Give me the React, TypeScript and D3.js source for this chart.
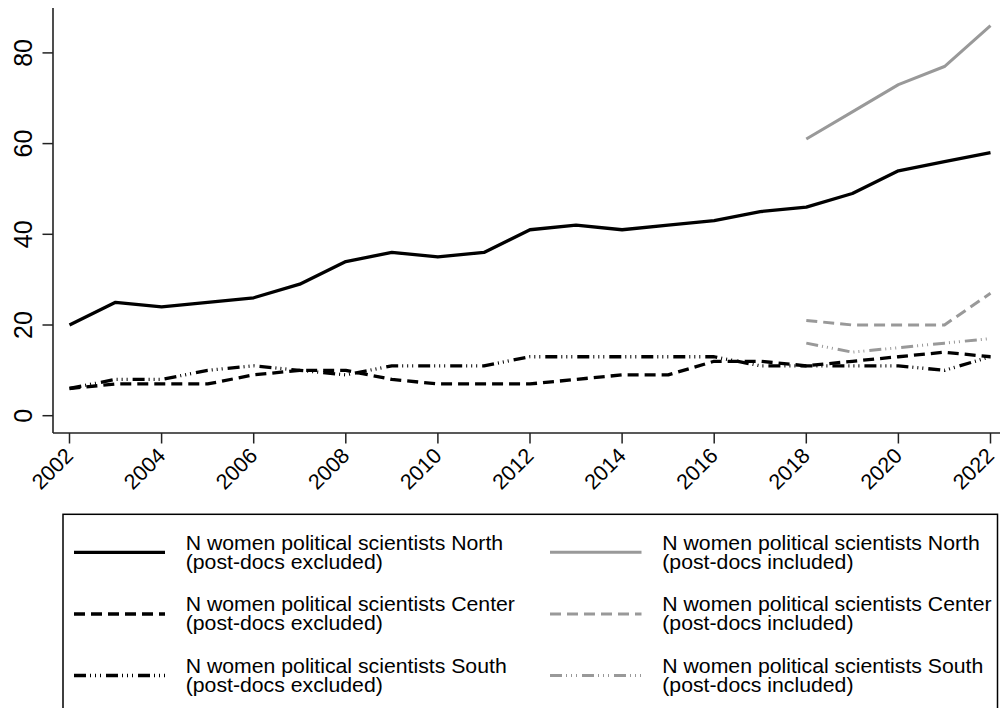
import React from "react";
import * as d3 from "d3";

const years = [2002, 2003, 2004, 2005, 2006, 2007, 2008, 2009, 2010, 2011, 2012, 2013, 2014, 2015, 2016, 2017, 2018, 2019, 2020, 2021, 2022];
const northExcl = [20, 25, 24, 25, 26, 29, 34, 36, 35, 36, 41, 42, 41, 42, 43, 45, 46, 49, 54, 56, 58];
const centerExcl = [6, 7, 7, 7, 9, 10, 10, 8, 7, 7, 7, 8, 9, 9, 12, 12, 11, 12, 13, 14, 13];
const southExcl = [6, 8, 8, 10, 11, 10, 9, 11, 11, 11, 13, 13, 13, 13, 13, 11, 11, 11, 11, 10, 13];

const yearsIncl = [2018, 2019, 2020, 2021, 2022];
const northIncl = [61, 67, 73, 77, 86];
const centerIncl = [21, 20, 20, 20, 27];
const southIncl = [16, 14, 15, 16, 17];

const xTicks = [2002, 2004, 2006, 2008, 2010, 2012, 2014, 2016, 2018, 2020, 2022];
const yTicks = [0, 20, 40, 60, 80];

const legendLabels = [
  ["N women political scientists North", "(post-docs excluded)"],
  ["N women  political scientists Center", "(post-docs excluded)"],
  ["N women political scientists South", "(post-docs excluded)"],
  ["N women political scientists North", "(post-docs included)"],
  ["N women political scientists Center", "(post-docs included)"],
  ["N women political scientists South", "(post-docs included)"],
];

const BLACK = "#000000";
const GRAY = "#999999";
const DASH = "11,6";
const DASHDOT = "12,4,1,4,1,4,1,5";

export default function App() {
  const x = d3.scaleLinear().domain([2002, 2022]).range([69.5, 990.5]);
  const y = d3.scaleLinear().domain([0, 80]).range([415.7, 52.9]);
  const axisY = 433;
  const axisX = 53;

  const line = d3
    .line<[number, number]>()
    .x((d) => x(d[0]))
    .y((d) => y(d[1]));

  const series = [
    { xs: years, vs: northExcl, color: BLACK, dash: undefined, w: 3.3 },
    { xs: years, vs: centerExcl, color: BLACK, dash: DASH, w: 3.3 },
    { xs: years, vs: southExcl, color: BLACK, dash: DASHDOT, w: 3.3 },
    { xs: yearsIncl, vs: northIncl, color: GRAY, dash: undefined, w: 3 },
    { xs: yearsIncl, vs: centerIncl, color: GRAY, dash: DASH, w: 3 },
    { xs: yearsIncl, vs: southIncl, color: GRAY, dash: DASHDOT, w: 3 },
  ];

  const font = "'Liberation Sans', Arial, Helvetica, sans-serif";
  const rowBase = [549.5, 611.2, 672.8];
  const keyY = [552.3, 614, 675.5];
  const colKey = [
    [74, 165],
    [550, 641.5],
  ];
  const colText = [185.7, 662.3];

  return (
    <svg
      width={1000}
      height={708}
      style={{ position: "absolute", left: 0, top: 0, background: "#fff" }}
      fontFamily={font}
    >
      <rect x={0} y={0} width={1000} height={708} fill="#fff" />
      {/* axes */}
      <line x1={axisX} y1={8} x2={axisX} y2={axisY} stroke="#222" strokeWidth={1.6} />
      <line x1={axisX} y1={axisY} x2={1000} y2={axisY} stroke="#222" strokeWidth={1.6} />
      {yTicks.map((t) => (
        <g key={"y" + t}>
          <line x1={axisX - 10.5} x2={axisX} y1={y(t)} y2={y(t)} stroke="#222" strokeWidth={1.5} />
          <text
            transform={`translate(31.5,${y(t)}) rotate(-90)`}
            textAnchor="middle"
            fontSize={25}
            fill="#000"
          >
            {t}
          </text>
        </g>
      ))}
      {xTicks.map((t) => (
        <g key={"x" + t}>
          <line x1={x(t)} x2={x(t)} y1={axisY} y2={axisY + 10.5} stroke="#222" strokeWidth={1.5} />
          <text
            transform={`translate(${x(t) + 5},${axisY + 24}) rotate(-45)`}
            textAnchor="end"
            fontSize={21.5}
            fill="#000"
          >
            {t}
          </text>
        </g>
      ))}
      {/* lines */}
      {series.map((s, i) => (
        <path
          key={"s" + i}
          d={line(s.xs.map((yr, j) => [yr, s.vs[j]] as [number, number])) || ""}
          fill="none"
          stroke={s.color}
          strokeWidth={s.w}
          strokeDasharray={s.dash}
          strokeLinejoin="round"
        />
      ))}
      {/* legend */}
      <rect x={63} y={514.3} width={934.5} height={220} fill="none" stroke="#000" strokeWidth={1.5} />
      {series.map((s, i) => {
        const col = i < 3 ? 0 : 1;
        const row = i % 3;
        return (
          <g key={"l" + i}>
            <line
              x1={colKey[col][0]}
              x2={colKey[col][1]}
              y1={keyY[row]}
              y2={keyY[row]}
              stroke={s.color}
              strokeWidth={s.w}
              strokeDasharray={s.dash}
            />
            <text
              transform={`translate(${colText[col]},${rowBase[row]}) scale(1.09,1)`}
              fontSize={19.5}
              fill="#000"
            >
              {legendLabels[i][0]}
            </text>
            <text
              transform={`translate(${colText[col]},${rowBase[row] + 19}) scale(1.09,1)`}
              fontSize={19.5}
              fill="#000"
            >
              {legendLabels[i][1]}
            </text>
          </g>
        );
      })}
    </svg>
  );
}
